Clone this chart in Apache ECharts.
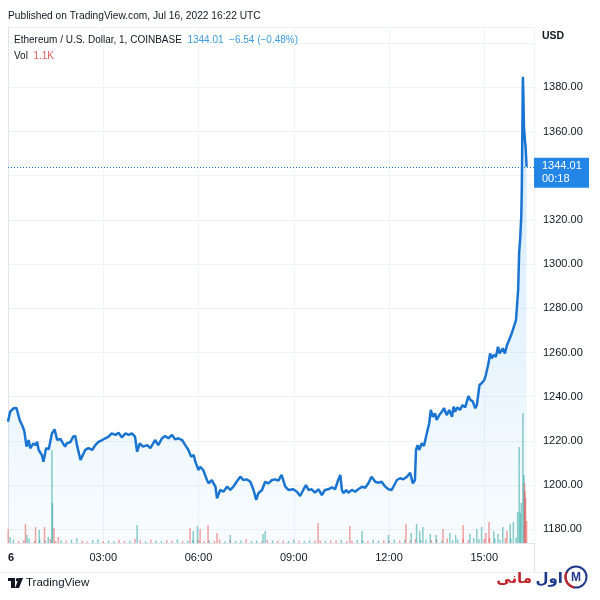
<!DOCTYPE html>
<html><head><meta charset="utf-8">
<script src="https://cdn.jsdelivr.net/npm/echarts@6/dist/echarts.min.js"></script>
<style>html,body{margin:0;padding:0;background:#fff}#c{width:600px;height:600px}</style>
</head><body><div id="c"></div>
<script>
// ---- data: price (minutes after 00:00 UTC, Jul 16 2022) ----
const minutes = [0,4,11,16,17,22,25,28,31,35,39,42,48,52,55,58,64,67,72,77,80,83,88,93,99,104,108,111,118,123,127,131,137,140,146,152,159,165,171,178,184,190,196,203,209,215,222,228,234,240,244,249,255,263,269,278,284,291,297,303,310,316,322,329,335,341,346,351,354,360,363,369,376,379,385,392,395,401,407,414,420,426,432,439,445,451,458,464,469,473,480,486,492,499,505,511,517,524,530,539,546,552,558,563,568,574,580,587,593,599,605,612,618,624,628,631,634,639,643,650,656,662,669,675,681,687,694,700,706,713,719,725,728,735,741,747,754,760,765,769,771,774,777,782,786,790,792,796,799,803,807,810,815,820,824,829,834,839,842,845,849,854,859,864,870,874,878,883,886,891,895,900,903,908,911,914,918,922,926,929,935,939,943,947,952,956,960,964,966,968,970,971,972,973,974,975,977,978,980];
const prices = [1228.7,1233.2,1234.8,1234.9,1234.0,1229.5,1230.4,1226.4,1224.2,1217.4,1220.4,1216.7,1218.9,1218.1,1219.6,1215.9,1213.6,1210.6,1216.7,1216.2,1216.8,1223.4,1225.2,1220.4,1220.9,1218.9,1217.4,1218.9,1219.5,1221.9,1222.3,1217.4,1211.4,1212.1,1215.9,1216.7,1215.9,1218.1,1219.6,1220.4,1221.2,1221.9,1223.4,1222.7,1223.7,1221.6,1223.4,1222.7,1223.4,1221.9,1215.1,1218.9,1217.4,1218.1,1216.7,1220.4,1218.1,1221.2,1222.2,1221.2,1222.7,1220.7,1221.2,1220.4,1218.1,1215.9,1212.9,1213.6,1210.6,1206.8,1208.3,1206.8,1202.3,1200.8,1202.3,1199.3,1194.0,1197.8,1197.0,1199.3,1197.8,1199.3,1201.5,1203.8,1202.3,1202.6,1201.5,1197.8,1193.3,1196.3,1197.8,1201.5,1200.8,1202.3,1202.6,1202.0,1204.6,1199.3,1197.8,1198.1,1197.0,1195.1,1197.8,1200.0,1197.8,1198.1,1196.6,1198.1,1195.5,1197.8,1198.1,1199.0,1198.1,1202.3,1204.6,1197.8,1196.3,1197.8,1196.6,1197.8,1197.0,1198.1,1199.3,1198.8,1200.8,1203.8,1201.5,1201.1,1201.5,1199.3,1198.1,1197.8,1198.6,1202.3,1203.1,1202.6,1203.8,1205.6,1200.8,1202.3,1215.9,1218.1,1215.9,1218.9,1217.7,1221.9,1221.2,1228.0,1234.0,1230.9,1232.5,1229.5,1231.7,1233.2,1234.8,1231.7,1234.0,1230.9,1235.5,1233.2,1235.2,1234.0,1236.2,1235.2,1240.3,1238.5,1238.0,1234.8,1236.2,1245.3,1246.1,1247.6,1249.8,1255.1,1259.6,1257.4,1258.9,1258.1,1262.6,1259.6,1261.9,1259.6,1263.4,1265.7,1268.7,1271.7,1274.7,1288.3,1305.6,1312.0,1322.0,1335.0,1360.0,1384.8,1376.0,1362.0,1355.5,1353.5,1344.01];

// ---- data: volume ----
const volBaseMinutes = [0,10,20,30,40,50,60,70,80,90,100,110,120,130,140,150,160,170,180,190,200,210,220,230,240,250,260,270,280,290,300,310,320,330,340,350,360,370,380,390,400,410,420,430,440,450,460,470,480,490,500,510,520,530,540,550,560,570,580,590,600,610,620,630,640,650,660,670,680,690,700,710,720,730,740,750,760,770,780,790,800,810,820,830,840,850,860,870,880,890,900,910,920,930,940,950,960];
const volBaseValues = [700,180,90,150,220,100,160,130,200,90,140,110,170,250,120,80,150,190,100,130,90,160,120,110,200,140,90,170,130,100,150,120,180,90,110,160,140,100,130,120,170,90,150,110,130,200,100,120,90,160,140,110,130,100,180,120,90,150,110,130,100,140,120,160,90,110,150,130,100,170,120,140,110,180,130,160,120,200,140,170,150,190,130,220,160,180,210,150,240,190,200,260,220,180,250,230,280];
const volBaseSides = "dudduduudduduudduuduuddudduduudduduuddudduduuduuddudduuduudduddudduuduuddududduudduduudduudduudu";
const volSpikeMinutes = [4,33,36,52,59,69,76,83,84,87,95,244,344,350,358,363,378,395,420,482,486,586,646,669,719,752,762,772,778,784,798,809,822,835,846,860,873,886,895,903,909,918,926,935,943,949,955,963,966,968,970,973,975,976,977,978,980];
const volSpikeValues = [300,950,400,800,650,800,300,4650,2000,750,300,900,750,600,850,700,900,500,400,450,600,1000,850,600,400,950,500,950,600,800,450,400,700,500,400,900,450,700,800,500,1050,600,450,800,600,950,1050,1550,4800,1500,2000,6500,3400,3000,2600,2250,1100];
const volSpikeSides = "udududuuudduduuddduuudduuduuuuuuduuduuudduuuduuuuuuuudddd";

// ---- axes / labels ----
const timeTicks = [0,180,360,540,720,900];
const timeLabels = ['6','03:00','06:00','09:00','12:00','15:00'];
const lastPrice = 1344.01;
const lastChange = '−6.54 (−0.48%)';
const countdown = '00:18';
const lastVol = '1.1K';
const symbolName = 'Ethereum / U.S. Dollar, 1, COINBASE';
const publishedText = 'Published on TradingView.com, Jul 16, 2022 16:22 UTC';

const FONT = '"Liberation Sans", Arial, sans-serif';
const priceData = minutes.map((m, i) => [m, prices[i]]);
const volData = [];
volBaseMinutes.forEach((m, i) => volData.push([m, volBaseValues[i], volBaseSides[i] === 'd' ? -1 : 1]));
volSpikeMinutes.forEach((m, i) => volData.push([m, volSpikeValues[i], volSpikeSides[i] === 'd' ? -1 : 1]));

const chart = echarts.init(document.getElementById('c'), null, {renderer: 'canvas'});
chart.setOption({
  animation: false,
  backgroundColor: '#fff',
  textStyle: {fontFamily: FONT},
  title: {text: publishedText, left: 3, top: 6, textStyle: {fontSize: 10.2, fontWeight: 'normal', color: '#131722', fontFamily: FONT}},
  grid: {left: 8, right: 66, top: 27, bottom: 57, containLabel: false},
  xAxis: {
    type: 'value', min: 0, max: 994, interval: 180,
    axisLine: {show: true, lineStyle: {color: '#e0e3eb'}},
    axisTick: {show: false},
    splitLine: {show: true, lineStyle: {color: '#f0f3fa', width: 1}},
    axisLabel: {
      showMaxLabel: false, margin: 9, fontSize: 11, color: '#131722', fontFamily: FONT,
      formatter: v => { const i = timeTicks.indexOf(v); if (i < 0) return ''; return i === 0 ? '{d|' + timeLabels[0] + '}' : timeLabels[i]; },
      rich: {d: {fontWeight: 'bold', fontSize: 11, color: '#131722', padding: [0, 0, 0, 6], fontFamily: FONT}}
    }
  },
  yAxis: [{
    type: 'value', position: 'right', min: 1173.8, max: 1407.3, splitNumber: 11, scale: true,
    axisLine: {show: true, lineStyle: {color: '#e0e3eb'}},
    axisTick: {show: false},
    splitLine: {show: true, lineStyle: {color: '#f0f3fa', width: 1}},
    axisLabel: {
      showMinLabel: false, showMaxLabel: false, margin: 9, fontSize: 11, color: '#131722', fontFamily: FONT,
      formatter: v => (v >= 1400 ? '' : v.toFixed(2))
    }
  }, {
    type: 'value', show: false, min: 0, max: 25800, splitLine: {show: false}
  }],
  series: [{
    type: 'line', data: priceData, showSymbol: false, symbol: 'none', z: 3,
    lineStyle: {color: '#1a74d2', width: 2.5},
    itemStyle: {color: '#1a74d2'},
    areaStyle: {color: new echarts.graphic.LinearGradient(0, 0, 0, 1, [
      {offset: 0, color: 'rgba(33,150,243,0.30)'},
      {offset: 1, color: 'rgba(33,150,243,0.04)'}
    ])},
    markLine: {
      silent: true, symbol: ['none', 'none'],
      data: [{yAxis: lastPrice}],
      lineStyle: {color: '#1a74d2', type: [1, 2], width: 1},
      label: {
        show: true, position: 'end', distance: 0, offset: [0, 6],
        formatter: () => lastPrice.toFixed(2) + '\n' + countdown,
        backgroundColor: '#2386e6', color: '#fff', fontSize: 11, lineHeight: 13,
        padding: [2, 7, 2, 8], width: 40, fontFamily: FONT
      }
    }
  }, {
    type: 'bar', yAxisIndex: 1, data: volData, barWidth: 1.5, z: 2, barGap: '-100%',
    itemStyle: {color: p => p.value[2] < 0 ? 'rgba(239,83,80,0.55)' : 'rgba(38,166,154,0.55)'}
  }],
  graphic: [
    {type: 'text', left: 14, top: 35, z: 10, style: {
      text: symbolName + '  {b|' + lastPrice.toFixed(2) + '  ' + lastChange + '}',
      fontSize: 10, fill: '#131722', fontFamily: FONT, backgroundColor: '#fff',
      rich: {b: {fontSize: 10, fill: '#3d9be0', fontFamily: FONT}}
    }},
    {type: 'text', left: 14, top: 51, z: 10, style: {
      text: 'Vol  {r|' + lastVol + '}', fontSize: 10, fill: '#131722', fontFamily: FONT,
      rich: {r: {fontSize: 10, fill: '#e0605c', fontFamily: FONT}}
    }},
    {type: 'text', left: 542, top: 31, style: {text: 'USD', fontSize: 10.5, fontWeight: 'bold', fill: '#131722', fontFamily: FONT}},
    {type: 'line', shape: {x1: 534.5, y1: 543, x2: 534.5, y2: 572}, style: {stroke: '#e0e3eb', lineWidth: 1}},
    {type: 'line', shape: {x1: 0, y1: 572.5, x2: 590, y2: 572.5}, style: {stroke: '#eef0f4', lineWidth: 1}},
    // TradingView logo
    {type: 'rect', shape: {x: 8, y: 578, width: 7, height: 3}, style: {fill: '#131722'}},
    {type: 'rect', shape: {x: 11, y: 578, width: 4, height: 10}, style: {fill: '#131722'}},
    {type: 'circle', shape: {cx: 17.5, cy: 579.7, r: 1.7}, style: {fill: '#131722'}},
    {type: 'polygon', shape: {points: [[19, 578], [23, 578], [19, 588], [15, 588]]}, style: {fill: '#131722'}},
    {type: 'text', left: 26, top: 577, style: {text: 'TradingView', fontSize: 11.5, fill: '#131722', fontFamily: FONT}},
    // اول مانی logo
    {type: 'circle', shape: {cx: 576, cy: 577, r: 10.5}, style: {fill: '#fff', stroke: '#1f3a8a', lineWidth: 2}},
    {type: 'arc', shape: {cx: 576, cy: 577, r: 10.5, startAngle: Math.PI * 0.55, endAngle: Math.PI * 1.15}, style: {stroke: '#c0272d', lineWidth: 2.2, fill: 'none'}},
    {type: 'text', x: 576, y: 578, style: {text: 'M', fontSize: 12, fontWeight: 'bold', fill: '#1f3a8a', align: 'center', verticalAlign: 'middle', fontFamily: FONT}},
    {type: 'text', x: 563, y: 579, style: {text: 'اول', fontSize: 15, fontWeight: 'bold', fill: '#1f3a8a', align: 'right', verticalAlign: 'middle', fontFamily: '"DejaVu Sans", sans-serif'}},
    {type: 'text', x: 532, y: 579, style: {text: 'مانی', fontSize: 15, fontWeight: 'bold', fill: '#c0272d', align: 'right', verticalAlign: 'middle', fontFamily: '"DejaVu Sans", sans-serif'}}
  ]
});
</script>
</body></html>
